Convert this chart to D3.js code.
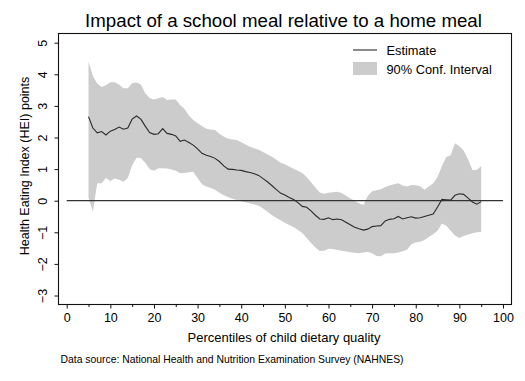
<!DOCTYPE html>
<html><head><meta charset="utf-8">
<script src="https://cdn.jsdelivr.net/npm/d3@7"></script>
<style>body{margin:0;background:#fff;} svg{display:block;} text{font-family:"Liberation Sans",Arial,sans-serif;fill:#000;}</style>
</head><body>
<svg id="c" width="525" height="381"></svg>
<script>
const titleText = "Impact of a school meal relative to a home meal";
const xLabel = "Percentiles of child dietary quality";
const yLabel = "Health Eating Index (HEI) points";
const sourceText = "Data source: National Health and Nutrition Examination Survey (NAHNES)";
const legendLabels = ["Estimate", "90% Conf. Interval"];
const xTicks = [0,10,20,30,40,50,60,70,80,90,100];
const xMinorTicks = [5,15,25,35,45,55,65,75,85,95];
const yTicks = [-3,-2,-1,0,1,2,3,4,5];

const percentile = [5,6,7,8,9,10,11,12,13,14,15,16,17,18,19,20,21,22,23,24,25,26,27,28,29,30,31,32,33,34,35,36,37,38,39,40,41,42,43,44,45,46,47,48,49,50,51,52,53,54,55,56,57,58,59,60,61,62,63,64,65,66,67,68,69,70,71,72,73,74,75,76,77,78,79,80,81,82,83,84,85,86,87,88,89,90,91,92,93,94,95];
const estimate = [2.66,2.3,2.15,2.19,2.08,2.2,2.25,2.33,2.26,2.3,2.58,2.68,2.58,2.36,2.16,2.1,2.12,2.28,2.13,2.1,2.05,1.88,1.92,1.84,1.76,1.64,1.5,1.44,1.4,1.34,1.24,1.1,1.0,0.99,0.97,0.96,0.92,0.89,0.85,0.8,0.7,0.6,0.48,0.36,0.24,0.18,0.1,0.04,-0.06,-0.18,-0.21,-0.32,-0.46,-0.58,-0.59,-0.54,-0.6,-0.58,-0.6,-0.68,-0.76,-0.84,-0.89,-0.93,-0.9,-0.82,-0.8,-0.79,-0.64,-0.59,-0.57,-0.5,-0.58,-0.54,-0.51,-0.55,-0.54,-0.5,-0.46,-0.42,-0.2,0.04,0.03,0.02,0.17,0.22,0.2,0.08,-0.04,-0.11,-0.03];
const upper = [4.4,3.95,3.7,3.6,3.65,3.75,3.75,3.68,3.56,3.56,3.72,3.74,3.68,3.4,3.25,3.2,3.24,3.28,3.19,3.2,3.2,3.03,2.9,2.7,2.55,2.45,2.36,2.28,2.25,2.24,2.12,2.03,1.96,1.94,1.92,1.85,1.78,1.71,1.66,1.61,1.54,1.46,1.4,1.3,1.2,1.15,1.08,1.01,0.95,0.88,0.74,0.58,0.42,0.26,0.22,0.25,0.27,0.28,0.24,0.16,0.07,0.0,-0.08,-0.14,0.15,0.3,0.33,0.36,0.43,0.48,0.52,0.55,0.48,0.45,0.5,0.49,0.46,0.35,0.45,0.55,0.75,1.1,1.38,1.44,1.82,1.72,1.58,1.3,0.97,0.97,1.1];
const lower = [0.1,-0.35,0.55,0.55,0.72,0.62,0.7,0.66,0.6,0.72,1.12,1.36,1.35,1.2,1.0,0.95,1.03,1.03,1.02,0.99,0.95,0.87,0.88,0.9,0.92,0.72,0.52,0.45,0.4,0.35,0.25,0.17,0.11,0.06,0.02,-0.02,-0.05,-0.08,-0.12,-0.16,-0.25,-0.35,-0.45,-0.54,-0.62,-0.7,-0.77,-0.83,-0.93,-1.02,-1.18,-1.34,-1.48,-1.59,-1.58,-1.52,-1.53,-1.56,-1.58,-1.61,-1.63,-1.65,-1.66,-1.64,-1.62,-1.66,-1.75,-1.76,-1.67,-1.66,-1.66,-1.64,-1.6,-1.55,-1.38,-1.32,-1.3,-1.24,-1.15,-1.06,-0.95,-0.72,-0.79,-0.95,-1.1,-1.18,-1.12,-1.07,-1.03,-1.0,-0.98];

const svg = d3.select("#c");
const frame = {left:58.5, right:511.5, top:33.5, bottom:304.5};
const x = d3.scaleLinear().domain([0,100]).range([66.7,503]);
const y = d3.scaleLinear().domain([-3,5]).range([295.5,42.7]);

const data = percentile.map((p,i)=>({p, e:estimate[i], lo:lower[i], hi:upper[i]}));

// band
svg.append("path").datum(data)
  .attr("d", d3.area().x(d=>x(d.p)).y0(d=>y(d.lo)).y1(d=>y(d.hi)))
  .attr("fill","#cccccc").attr("stroke","none");

// zero line
svg.append("line").attr("x1",x(0)).attr("x2",x(100)).attr("y1",y(0)).attr("y2",y(0))
  .attr("stroke","#333").attr("stroke-width",1.2);

// estimate
svg.append("path").datum(data)
  .attr("d", d3.line().x(d=>x(d.p)).y(d=>y(d.e)))
  .attr("fill","none").attr("stroke","#2a2a2a").attr("stroke-width",1.1);

// frame
svg.append("rect").attr("x",frame.left).attr("y",frame.top)
  .attr("width",frame.right-frame.left).attr("height",frame.bottom-frame.top)
  .attr("fill","none").attr("stroke","#111").attr("stroke-width",1.1);

// x axis
const xg = svg.append("g").attr("transform",`translate(0,${frame.bottom})`);
xg.call(d3.axisBottom(x).tickValues(xTicks).tickSize(4).tickPadding(5).tickFormat(d3.format("d")));
xg.select(".domain").remove();
xg.selectAll("text").attr("font-size",12.5).attr("font-family","Liberation Sans, Arial, sans-serif").attr("fill","#000");
xg.selectAll("line").attr("stroke","#111");
const xm = svg.append("g").attr("transform",`translate(0,${frame.bottom})`);
xm.call(d3.axisBottom(x).tickValues(xMinorTicks).tickSize(2.5).tickFormat(""));
xm.select(".domain").remove();
xm.selectAll("line").attr("stroke","#111");

// y axis
const yg = svg.append("g").attr("transform",`translate(${frame.left},0)`);
yg.call(d3.axisLeft(y).tickValues(yTicks).tickSize(4).tickFormat(d3.format("d")));
yg.select(".domain").remove();
yg.selectAll("line").attr("stroke","#111");
yg.selectAll("text").remove();
yg.selectAll(".tick").append("text")
  .attr("transform","translate(-12,0) rotate(-90)")
  .attr("text-anchor","middle").attr("dy","0")
  .attr("font-size",12.5).text(d=>d3.format("d")(d));

// title
svg.append("text").attr("x",283.5).attr("y",26.5).attr("text-anchor","middle")
  .attr("font-size",18.7).text(titleText);
// x label
svg.append("text").attr("x",284).attr("y",342).attr("text-anchor","middle")
  .attr("font-size",13).text(xLabel);
// y label
svg.append("text").attr("transform","translate(29,166) rotate(-90)").attr("text-anchor","middle")
  .attr("font-size",12.5).text(yLabel);
// source
svg.append("text").attr("x",60.5).attr("y",362.5).attr("font-size",10.4).text(sourceText);

// legend
svg.append("line").attr("x1",353).attr("x2",377).attr("y1",50).attr("y2",50).attr("stroke","#2a2a2a").attr("stroke-width",1.1);
svg.append("text").attr("x",386.5).attr("y",54.5).attr("font-size",12.8).text(legendLabels[0]);
svg.append("rect").attr("x",353).attr("y",62).attr("width",24).attr("height",13).attr("fill","#cccccc");
svg.append("text").attr("x",386.5).attr("y",73.5).attr("font-size",12.8).text(legendLabels[1]);
</script>
</body></html>
